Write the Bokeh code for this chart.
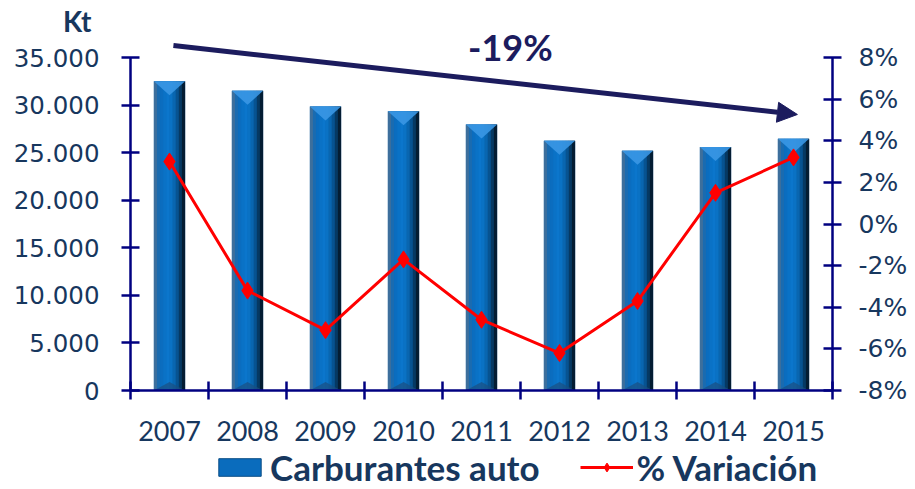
from bokeh.plotting import figure
from bokeh.layouts import column
from bokeh.models import (Range1d, LinearAxis, FixedTicker, Arrow, Div,
                          NormalHead, Label, Legend, LegendItem, ColumnDataSource)
from bokeh.transform import dodge
from bokeh.embed import file_html
from bokeh.resources import INLINE

# ---------------- data ----------------
years = ["2007", "2008", "2009", "2010", "2011", "2012", "2013", "2014", "2015"]
carburantes_kt = [32500, 31500, 29850, 29350, 27950, 26250, 25200, 25600, 26450]
variacion_pct = [3.0, -3.2, -5.1, -1.7, -4.6, -6.2, -3.7, 1.5, 3.2]

left_ticks = [0, 5000, 10000, 15000, 20000, 25000, 30000, 35000]
left_labels = ["0", "5.000", "10.000", "15.000", "20.000", "25.000", "30.000", "35.000"]
right_ticks = [-8, -6, -4, -2, 0, 2, 4, 6, 8]
right_labels = ["-8%", "-6%", "-4%", "-2%", "0%", "2%", "4%", "6%", "8%"]
unit_label = "Kt"
total_change_label = "-19%"
bar_series_name = "Carburantes auto"
line_series_name = "% Variación"

# category slot positions (one unit per year, centred in slot)
xpos = [i + 0.5 for i in range(len(years))]
slot_edges = list(range(len(years) + 1))

# ---------------- styling / geometry ----------------
NAVY_TXT = "#17375E"
AXIS_COL = "#000080"
ARROW_COL = "#1C1C5E"
BAR_COL = "#0A6CBD"
RED = "#FF0000"
TOP_H = 25                 # height of the "Kt" strip above the figure
FRAME_W, FRAME_H = 702, 365
LEFT_B, RIGHT_B, BOTTOM_B = 130, 80, 56
LEGEND_H = 42
AXIS_PX = 333.0            # pixel span of 0..35000 / -8..8
Y_MAX = left_ticks[-1] * FRAME_H / AXIS_PX
P_MIN = right_ticks[0]
P_MAX = right_ticks[0] + (right_ticks[-1] - right_ticks[0]) * FRAME_H / AXIS_PX
TOTAL_W = LEFT_B + FRAME_W + RIGHT_B
NAN = float("nan")

p = figure(x_range=Range1d(0, len(years)), y_range=Range1d(0, Y_MAX),
           frame_width=FRAME_W, frame_height=FRAME_H,
           output_backend="svg", toolbar_location=None,
           x_axis_location=None, y_axis_location=None,
           min_border_left=LEFT_B, min_border_right=RIGHT_B, min_border_top=0,
           min_border_bottom=BOTTOM_B)
p.outline_line_color = None
p.background_fill_color = "white"
p.border_fill_color = None
p.xgrid.grid_line_color = None
p.ygrid.grid_line_color = None
p.extra_y_ranges = {"pct": Range1d(P_MIN, P_MAX)}

# ---- axes ----
def style_axis(ax, size, font):
    ax.axis_line_color = AXIS_COL
    ax.axis_line_width = 2.5
    ax.major_tick_line_color = AXIS_COL
    ax.major_tick_line_width = 2.5
    ax.major_tick_in = 9
    ax.major_tick_out = 9
    ax.minor_tick_line_color = None
    ax.major_label_text_font = font
    ax.major_label_text_font_size = size
    ax.major_label_text_color = NAVY_TXT

ax_l = LinearAxis(ticker=FixedTicker(ticks=left_ticks),
                  major_label_overrides={t: l for t, l in zip(left_ticks, left_labels)},
                  bounds=(left_ticks[0], left_ticks[-1]))
style_axis(ax_l, "24.5px", "DejaVu Sans")
ax_l.major_label_standoff = 22
p.add_layout(ax_l, "left")

ax_r = LinearAxis(y_range_name="pct", ticker=FixedTicker(ticks=right_ticks),
                  major_label_overrides={t: l for t, l in zip(right_ticks, right_labels)},
                  bounds=(right_ticks[0], right_ticks[-1]))
style_axis(ax_r, "25px", "DejaVu Sans")
ax_r.major_label_standoff = 17
p.add_layout(ax_r, "right")

# bottom axis: labels at slot centres (major), tick marks at slot edges (minor)
ax_b = LinearAxis(ticker=FixedTicker(ticks=xpos, minor_ticks=slot_edges),
                  major_label_overrides={x: y for x, y in zip(xpos, years)})
style_axis(ax_b, "27px", "Lato")
ax_b.major_tick_line_color = None
ax_b.minor_tick_line_color = AXIS_COL
ax_b.minor_tick_line_width = 2.5
ax_b.minor_tick_in = 9
ax_b.minor_tick_out = 9
ax_b.major_label_standoff = 21
p.add_layout(ax_b, "below")

# ---- bars (cylinder look with strips) ----
src = ColumnDataSource(dict(x=xpos, year=years, kt=carburantes_kt, pct=variacion_pct))
BAR_W = 0.4
base = p.vbar(x="x", top="kt", width=BAR_W, source=src,
              fill_color=BAR_COL, line_color=None)
strip_colors = ["#3D6F9C", "#1A6BB0", "#0B6DBF", "#0A72C6", "#0B76CC",
                "#0A72C4", "#0966B0", "#075391", "#063963", "#041D33"]
n = len(strip_colors)
sw = BAR_W / n
for k, c in enumerate(strip_colors):
    off = -BAR_W / 2 + (k + 0.5) * sw
    p.vbar(x=dodge("x", off), top="kt", width=sw * 1.05,
           source=src, fill_color=c, line_color=None)

bevel = 14 * Y_MAX / FRAME_H
xs_top, ys_top, xs_bot, ys_bot = [], [], [], []
for c, v in zip(xpos, carburantes_kt):
    xs_top.append([c - BAR_W / 2, c + BAR_W / 2, c])
    ys_top.append([v, v, v - bevel])
    xs_bot.append([c - BAR_W / 2, c + BAR_W / 2, c])
    ys_bot.append([0, 0, bevel * 0.6])
p.patches(xs_top, ys_top, fill_color="#3A97E4", line_color=None, fill_alpha=0.9)
p.patches(xs_bot, ys_bot, fill_color="#1B4F80", line_color=None, fill_alpha=0.7)

# ---- line ----
ln = p.line(x="x", y="pct", y_range_name="pct", source=src,
            line_color=RED, line_width=3)
mk = p.scatter(x="x", y="pct", y_range_name="pct", source=src, marker="diamond",
               size=17, fill_color=RED, line_color=RED)

# ---- annotations ----
arrow = Arrow(x_start=0.55, y_start=36260, x_end=8.55, y_end=29010,
              line_color=ARROW_COL, line_width=5,
              end=NormalHead(size=20, fill_color=ARROW_COL, line_color=ARROW_COL))
p.add_layout(arrow)

p.add_layout(Label(x=4.87, y=36104, text=total_change_label, text_font="Lato",
                   text_font_style="bold", text_font_size="36px",
                   text_color=ARROW_COL, text_align="center", text_baseline="middle"))

# ---- legend strip below the chart (legend-only glyphs hold NaN, never drawn) ----
pl = figure(width=TOTAL_W, height=LEGEND_H, x_range=Range1d(0, 1), y_range=Range1d(0, 1),
            output_backend="svg", toolbar_location=None,
            x_axis_location=None, y_axis_location=None, min_border=0)
pl.outline_line_color = None
pl.xgrid.grid_line_color = None
pl.ygrid.grid_line_color = None
leg_bar = pl.vbar(x=[NAN], top=[NAN], width=0.1, fill_color=BAR_COL, line_color="#0B4E86")
leg_line = pl.line(x=[NAN, NAN], y=[NAN, NAN], line_color=RED, line_width=3)
leg_mk = pl.scatter(x=[NAN], y=[NAN], marker="diamond", size=17,
                    fill_color=RED, line_color=RED)
legend = Legend(items=[LegendItem(label=bar_series_name, renderers=[leg_bar]),
                       LegendItem(label=line_series_name, renderers=[leg_line, leg_mk])],
                orientation="horizontal", location=(83, 0),
                glyph_width=53, glyph_height=22, label_standoff=4, spacing=40,
                padding=0, margin=0, border_line_color=None,
                background_fill_alpha=0,
                label_text_font="Lato", label_text_font_style="bold",
                label_text_font_size="35px", label_text_color=NAVY_TXT)
pl.add_layout(legend, "center")

# ---- "Kt" unit caption above the left axis ----
kt_div = Div(text=unit_label, width=200, height=TOP_H, margin=0,
             styles={"font-family": "Lato", "font-weight": "bold",
                     "font-size": "28px", "color": NAVY_TXT,
                     "line-height": "30px", "padding-top": "6px",
                     "padding-left": "63px", "box-sizing": "border-box",
                     "overflow": "visible", "z-index": "5"})

layout = column(kt_div, p, pl, spacing=0)
open("out.html", "w").write(file_html(layout, INLINE))
